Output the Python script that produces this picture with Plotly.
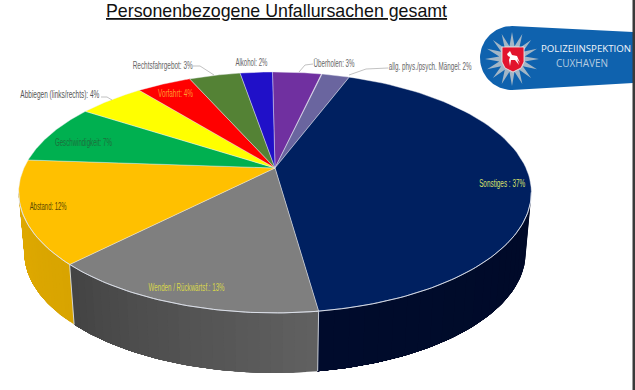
import json
import numpy as np
import plotly.graph_objects as go

# ---- data, clockwise from the top of the pie ----
CATEGORIES = ["Überholen", "allg. phys./psych. Mängel", "Sonstiges", "Wenden / Rückwärtsf.",
              "Abstand", "Geschwindigkeit", "Abbiegen (links/rechts)", "Vorfahrt",
              "Rechtsfahrgebot", "Alkohol"]
# shares; the labels show them rounded
VALUES = [3.26, 1.89, 36.6, 12.66, 12.0, 7.0, 4.4, 3.63, 3.43, 2.15]
TOP_COLORS = ["#7030A0", "#6A659F", "#002060", "#7F7F7F", "#FFC000",
              "#00B050", "#FFFF00", "#FF0000", "#548235", "#2010C8"]
WALL_LEFT = {2: "#000B2C", 3: "#444444", 4: "#E0AA00"}
WALL_RIGHT = {2: "#000A28", 3: "#606060", 4: "#D8A400"}

TITLE = "Personenbezogene Unfallursachen gesamt"
LABEL_SEP = [": ", ": ", " : ", ": ", ": ", ": ", ": ", ": ", ": ", ": "]
LABEL_POS = [(334, 63), (430, 66), (502, 183), (186, 287), (48, 206),
             (83, 142), (60, 94), (175, 93), (162, 65), (251, 62)]
LABEL_WIDTHS = [41, 83, 46, 76, 37, 57, 79, 35, 60, 32]
LABEL_COLORS = ["#666666", "#666666", "#D9E06A", "#D8D84A", "#5A4800",
                "#1F6E3C", "#555555", "#FF9A30", "#666666", "#666666"]
LEADERS = [[(313, 64), (305, 65), (299, 72)], [(388, 68), (366, 69), (349, 75)],
           [(193, 66), (200, 66), (214, 75)], [(101, 97), (107, 97), (112, 100)]]

# ---- perspective model of the disc ----
CX, CY = 275.0, 168.0
A, B, K = 251.0, 115.5, 0.203
DEPTH, SHRINK = 60.0, 0.978
START_DEG = -0.7
LABEL_FONT = "Liberation Sans, Arial, sans-serif"


def rim(theta_deg):
    t = np.radians(np.asarray(theta_deg, dtype=float))
    w = 1 + K * np.cos(t)
    return CX + A * np.sin(t) / w, CY - B * np.cos(t) / w


def rim_low(theta_deg):
    x, y = rim(theta_deg)
    return CX + (x - CX) * SHRINK, y + DEPTH


total = sum(VALUES)
edges = START_DEG + np.concatenate([[0], np.cumsum(VALUES)]) / total * 360
VIS0 = np.degrees(np.arccos(-K))
VIS1 = 360 - VIS0

fig = go.Figure()


def poly(xs, ys, fill, line=None, width=0.0):
    fig.add_trace(go.Scatter(x=list(xs), y=list(ys), mode="lines", fill="toself", fillcolor=fill,
                             line=dict(color=line or fill, width=width), hoverinfo="skip"))


def mix(c1, c2, f):
    a = [int(c1[i:i + 2], 16) for i in (1, 3, 5)]
    b = [int(c2[i:i + 2], 16) for i in (1, 3, 5)]
    return "#" + "".join(f"{round(p + (q - p) * f):02x}" for p, q in zip(a, b))


# side wall: each strip runs to the end of its segment and the next one paints over it
for i in (2, 3, 4):
    lo, hi = max(edges[i], VIS0), min(edges[i + 1], VIS1)
    cuts = np.linspace(lo, hi, 25)
    for j in range(len(cuts) - 1):
        th = np.linspace(cuts[j], hi, 60)
        tx, ty = rim(th)
        bx, by = rim_low(th)
        col = mix(WALL_RIGHT[i], WALL_LEFT[i], j / (len(cuts) - 2))
        poly(np.r_[tx, bx[::-1]], np.r_[ty, by[::-1]], col)

# light edges between the wall segments
for e in (edges[3], edges[4]):
    x0, y0 = rim(e)
    x1, y1 = rim_low(e)
    fig.add_trace(go.Scatter(x=[x0, x1], y=[y0, y1], mode="lines", hoverinfo="skip",
                             line=dict(color="rgba(225,230,240,0.85)", width=1)))

# top face
for i, col in enumerate(TOP_COLORS):
    th = np.linspace(edges[i], edges[i + 1], 80)
    x, y = rim(th)
    poly(np.r_[CX, x, CX], np.r_[CY, y, CY], col, "rgba(235,238,245,0.6)", 0.7)

# pale front rim of the top face
rx, ry = rim(np.linspace(VIS0, VIS1, 160))
fig.add_trace(go.Scatter(x=rx, y=ry, mode="lines", hoverinfo="skip",
                         line=dict(color="rgba(225,230,240,0.9)", width=1)))

# labels and leader lines
for pts in LEADERS:
    fig.add_trace(go.Scatter(x=[p[0] for p in pts], y=[p[1] for p in pts], mode="lines",
                             hoverinfo="skip", line=dict(color="#A8A8A8", width=0.7)))

ann = []
width_by_text = {}
for cat, val, sep, pos, col, w in zip(CATEGORIES, VALUES, LABEL_SEP, LABEL_POS, LABEL_COLORS, LABEL_WIDTHS):
    txt = f"{cat}{sep}{round(val)}%"
    width_by_text[txt] = w
    ann.append(dict(x=pos[0], y=pos[1], text=txt, showarrow=False,
                    font=dict(family=LABEL_FONT, size=10, color=col)))
ann.append(dict(x=276.5, y=10.5, text=f"<u>{TITLE}</u>", showarrow=False,
                font=dict(family="Liberation Sans, Arial, sans-serif", size=17.8, color="#111111")))
ann.append(dict(x=586, y=48, text="POLIZEIINSPEKTION", showarrow=False,
                font=dict(family="Open Sans, sans-serif", size=9.7, color="#F2F6FA")))
ann.append(dict(x=582, y=63, text="CUXHAVEN", showarrow=False,
                font=dict(family="Open Sans, sans-serif", size=10, color="#B5CBE0")))

# badge
LOGO_X, LOGO_Y, LOGO_R = 512.0, 58.0, 32.0
arc = np.radians(np.linspace(90, 270, 50))
poly(np.r_[LOGO_X + LOGO_R * np.cos(arc), 633, 633],
     np.r_[LOGO_Y - LOGO_R * np.sin(arc), 83, 32], "#0F62AE")
star_t = np.linspace(0, 2 * np.pi, 33)
star_r = np.where(np.arange(33) % 2 == 0, 27.0, 13.0)
poly(LOGO_X + star_r * np.sin(star_t), 59 - star_r * np.cos(star_t), "#A3B6C6")
poly([502, 524, 524, 521, 513, 505, 502, 502], [47, 47, 62, 68, 72, 68, 62, 47], "#E2142D", "#F4F4F4", 0.8)
poly([507, 510, 512, 517, 520, 518, 517, 519, 516, 515, 511, 510, 509, 510, 508],
     [54, 51, 55, 56, 63, 60, 59, 65, 62, 60, 60, 66, 60, 57, 56], "#FFFFFF")

fig.add_shape(type="rect", x0=632.5, x1=635, y0=0, y1=390, fillcolor="#3A3A3A", line_width=0, layer="above")

fig.update_layout(
    width=635, height=390, margin=dict(l=0, r=0, t=0, b=0), showlegend=False,
    paper_bgcolor="#FFFFFF", plot_bgcolor="#FFFFFF", annotations=ann,
    xaxis=dict(range=[0, 635], visible=False, fixedrange=True),
    yaxis=dict(range=[390, 0], visible=False, fixedrange=True),
)

# the labels in the reference use a narrow face: squeeze the real text to its measured width
POST = """
document.body.style.margin = '0';
var W = %s;
function squeeze() {
  document.querySelectorAll('.annotation-text').forEach(function (t) {
    var w = W[t.textContent];
    if (w) { t.setAttribute('textLength', w); t.setAttribute('lengthAdjust', 'spacingAndGlyphs'); }
  });
}
var gd = document.getElementById('{plot_id}');
squeeze();
gd.on('plotly_afterplot', squeeze);
setTimeout(squeeze, 100);
""" % json.dumps(width_by_text, ensure_ascii=False)

fig.write_html("out.html", config=dict(displayModeBar=False), post_script=POST)
